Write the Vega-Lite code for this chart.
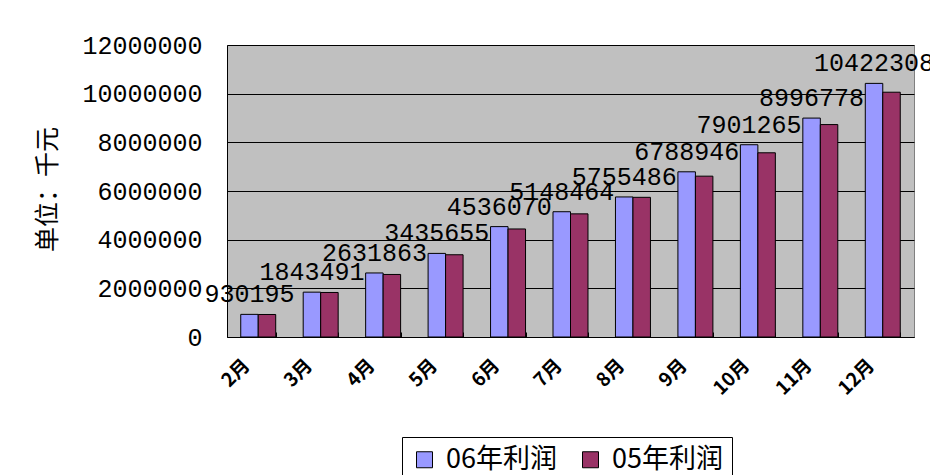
{
  "$schema": "https://vega.github.io/schema/vega-lite/v6.json",
  "autosize": "none",
  "width": 687,
  "height": 292,
  "padding": {"left": 227, "top": 45, "right": 16, "bottom": 138},
  "background": "white",
  "config": {
    "view": {"fill": "#C0C0C0", "stroke": "#808080", "strokeWidth": 1},
    "axis": {"labelColor": "black", "titleColor": "black"}
  },
  "data": {
    "values": [
      {"month": "2月", "series": "06年利润", "value": 930195},
      {"month": "2月", "series": "05年利润", "value": 925000},
      {"month": "3月", "series": "06年利润", "value": 1843491},
      {"month": "3月", "series": "05年利润", "value": 1830000},
      {"month": "4月", "series": "06年利润", "value": 2631863},
      {"month": "4月", "series": "05年利润", "value": 2570000},
      {"month": "5月", "series": "06年利润", "value": 3435655},
      {"month": "5月", "series": "05年利润", "value": 3380000},
      {"month": "6月", "series": "06年利润", "value": 4536070},
      {"month": "6月", "series": "05年利润", "value": 4440000},
      {"month": "7月", "series": "06年利润", "value": 5148464},
      {"month": "7月", "series": "05年利润", "value": 5060000},
      {"month": "8月", "series": "06年利润", "value": 5755486},
      {"month": "8月", "series": "05年利润", "value": 5740000},
      {"month": "9月", "series": "06年利润", "value": 6788946},
      {"month": "9月", "series": "05年利润", "value": 6610000},
      {"month": "10月", "series": "06年利润", "value": 7901265},
      {"month": "10月", "series": "05年利润", "value": 7570000},
      {"month": "11月", "series": "06年利润", "value": 8996778},
      {"month": "11月", "series": "05年利润", "value": 8730000},
      {"month": "12月", "series": "06年利润", "value": 10422308},
      {"month": "12月", "series": "05年利润", "value": 10060000}
    ]
  },
  "encoding": {
    "x": {
      "field": "month", "type": "nominal", "sort": null,
      "scale": {"paddingInner": 0.44, "paddingOuter": 0.22},
      "axis": {
        "title": null, "labelAngle": -45, "labelAlign": "right", "labelBaseline": "middle",
        "labelFont": "Noto Sans CJK SC", "labelFontSize": 19, "labelFontWeight": "bold",
        "labelPadding": 30, "labelOffset": -12,
        "tickBand": "extent", "tickSize": -5, "tickColor": "black", "domainColor": "black", "grid": false
      }
    },
    "xOffset": {"field": "series", "type": "nominal", "scale": {"domain": ["06年利润", "05年利润"], "paddingInner": 0}},
    "y": {
      "field": "value", "type": "quantitative",
      "scale": {"domain": [0, 12000000], "nice": false},
      "axis": {
        "title": "单位：千元", "titleFont": "Noto Sans CJK SC", "titleFontSize": 25, "titleFontWeight": "normal",
        "titleX": -180, "titleY": 144, "titleAlign": "center", "titleBaseline": "middle", "titleAngle": -90,
        "values": [0, 2000000, 4000000, 6000000, 8000000, 10000000, 12000000], "format": "d",
        "labelFont": "Liberation Mono", "labelFontSize": 25, "labelPadding": 25,
        "ticks": false, "domainColor": "black",
        "grid": true, "gridColor": "black", "gridOpacity": 1, "gridWidth": 1
      }
    }
  },
  "layer": [
    {
      "mark": {"type": "bar", "stroke": "black", "strokeWidth": 1},
      "encoding": {
        "color": {
          "field": "series", "type": "nominal",
          "scale": {"domain": ["06年利润", "05年利润"], "range": ["#9999FF", "#993366"]},
          "legend": {
            "title": null, "orient": "none", "legendX": 175, "legendY": 392, "direction": "horizontal",
            "strokeColor": "black", "fillColor": "white", "padding": 9,
            "labelFont": "Noto Sans CJK SC", "labelFontSize": 27, "labelColor": "black",
            "labelOffset": 8, "columnPadding": 20,
            "symbolType": "square", "symbolSize": 256, "symbolStrokeColor": "black", "symbolStrokeWidth": 1
          }
        }
      }
    },
    {
      "transform": [{"filter": "datum.series === '06年利润'"}],
      "mark": {"type": "text", "font": "Liberation Mono", "fontSize": 25, "color": "black", "baseline": "alphabetic", "dy": -12},
      "encoding": {"text": {"field": "value", "type": "quantitative", "format": "d"}}
    }
  ]
}
